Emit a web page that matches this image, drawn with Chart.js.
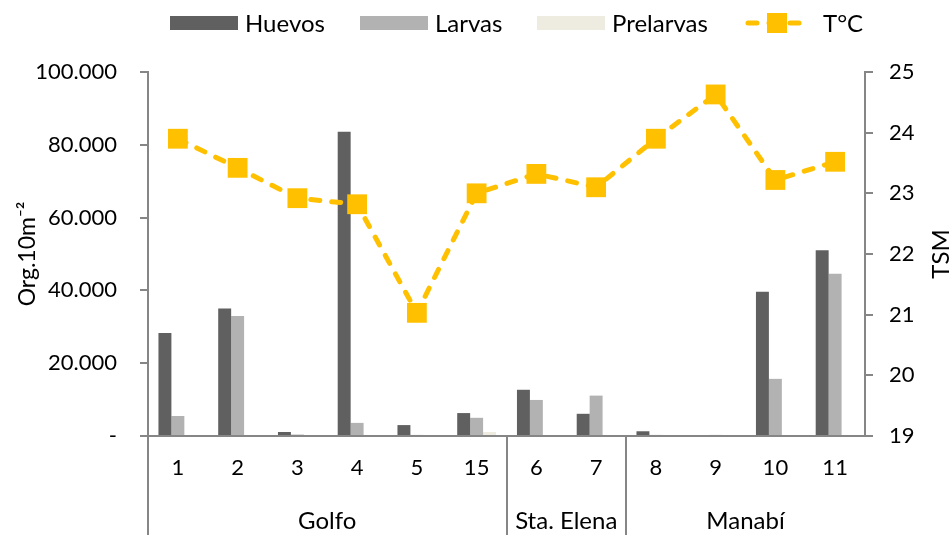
<!DOCTYPE html>
<html lang="es">
<head>
    <meta charset="utf-8">
    <script src="https://cdn.jsdelivr.net/npm/chart.js@4.4.1/dist/chart.umd.min.js"></script>
    <title>Huevos, larvas y TSM</title>
    <style>
        html, body { margin: 0; padding: 0; background: #fff; }
        .chart-container { position: relative; width: 951px; height: 535px; }
    </style>
</head>
<body>
    <div class="chart-container">
        <canvas id="myChart"></canvas>
    </div>

    <script>
        // estaciones y zonas
        var estaciones = ["1", "2", "3", "4", "5", "15", "6", "7", "8", "9", "10", "11"];
        var zonas = ["Golfo", "Sta. Elena", "Manabí"];
        var estacionesPorZona = [6, 2, 4];

        // Org.10m-2
        var huevos = [28300, 35000, 1100, 83600, 3000, 6300, 12700, 6100, 1300, 0, 39600, 51000];
        var larvas = [5500, 33000, 400, 3600, 300, 5000, 9900, 11100, 300, 300, 15700, 44600];
        var prelarvas = [0, 0, 0, 0, 0, 1100, 0, 300, 0, 0, 0, 0];

        // TSM (°C)
        var temperatura = [23.9, 23.42, 22.92, 22.82, 21.03, 23.0, 23.32, 23.1, 23.9, 24.63, 23.22, 23.52];

        var FONT = "Lato, 'Open Sans', sans-serif";
        var GRIS = "#868686";
        var AMARILLO = "#ffc000";

        var miles = function (v) {
            if (v === 0) return "-";
            return String(v).replace(/\B(?=(\d{3})+(?!\d))/g, ".");
        };

        // zonas debajo del eje x + separadores + titulo TSM + leyenda
        var extras = {
            id: "extras",
            afterDraw: function (chart) {
                var ctx = chart.ctx;
                var x = chart.scales.x;
                var area = chart.chartArea;
                var bottom = chart.height;
                ctx.save();

                // separadores de zona
                ctx.strokeStyle = GRIS;
                ctx.lineWidth = 2;
                var inicio = 0;
                var bordes = [area.left];
                for (var z = 0; z < zonas.length; z++) {
                    var fin = inicio + estacionesPorZona[z];
                    var izq = inicio === 0 ? area.left : (x.getPixelForValue(inicio - 1) + x.getPixelForValue(inicio)) / 2;
                    var der = fin >= estaciones.length ? area.right : (x.getPixelForValue(fin - 1) + x.getPixelForValue(fin)) / 2;
                    if (fin < estaciones.length) bordes.push(der);
                    ctx.fillStyle = "#000";
                    ctx.font = "24px " + FONT;
                    ctx.textAlign = "center";
                    ctx.textBaseline = "middle";
                    ctx.fillText(zonas[z], (izq + der) / 2, 521);
                    inicio = fin;
                }
                bordes.forEach(function (b) {
                    ctx.beginPath();
                    ctx.moveTo(Math.round(b), area.bottom);
                    ctx.lineTo(Math.round(b), bottom);
                    ctx.stroke();
                });

                // titulo eje derecho
                ctx.save();
                ctx.translate(941, (area.top + area.bottom) / 2);
                ctx.rotate(-Math.PI / 2);
                ctx.fillStyle = "#000";
                ctx.font = "24px " + FONT;
                ctx.textAlign = "center";
                ctx.textBaseline = "middle";
                ctx.fillText("TSM", 0, 0);
                ctx.restore();

                // leyenda
                var items = [
                    { t: "Huevos", c: "#606060", x: 170 },
                    { t: "Larvas", c: "#b2b2b2", x: 360 },
                    { t: "Prelarvas", c: "#eeece1", x: 537 },
                    { t: "T°C", linea: true, x: 745 }
                ];
                var ly = 23;
                ctx.font = "24px " + FONT;
                ctx.textAlign = "left";
                ctx.textBaseline = "middle";
                items.forEach(function (it) {
                    var lx = it.x;
                    if (it.linea) {
                        ctx.strokeStyle = AMARILLO;
                        ctx.lineWidth = 5;
                        ctx.lineCap = "round";
                        ctx.setLineDash([9, 12]);
                        ctx.beginPath();
                        ctx.moveTo(lx + 3, ly);
                        ctx.lineTo(lx + 61, ly);
                        ctx.stroke();
                        ctx.setLineDash([]);
                        ctx.fillStyle = AMARILLO;
                        ctx.fillRect(lx + 22, ly - 10, 20, 20);
                        lx += 78;
                    } else {
                        ctx.fillStyle = it.c;
                        ctx.fillRect(lx, ly - 7, 68, 14);
                        lx += 75;
                    }
                    ctx.fillStyle = "#000";
                    ctx.fillText(it.t, lx, ly + 1);
                });
                ctx.restore();
            }
        };

        var ctx = document.getElementById("myChart").getContext("2d");
        var myChart = new Chart(ctx, {
            type: "bar",
            data: {
                labels: estaciones,
                datasets: [{
                    type: "line",
                    label: "T°C",
                    data: temperatura,
                    yAxisID: "y2",
                    borderColor: AMARILLO,
                    backgroundColor: AMARILLO,
                    borderWidth: 5,
                    borderDash: [9, 12],
                    borderCapStyle: "round",
                    pointStyle: "rect",
                    pointRadius: 14,
                    pointBorderWidth: 0,
                    pointBackgroundColor: AMARILLO,
                    tension: 0,
                    order: 0
                }, {
                    label: "Huevos",
                    data: huevos,
                    backgroundColor: "#606060",
                    yAxisID: "y",
                    order: 1
                }, {
                    label: "Larvas",
                    data: larvas,
                    backgroundColor: "#b2b2b2",
                    yAxisID: "y",
                    order: 1
                }, {
                    label: "Prelarvas",
                    data: prelarvas,
                    backgroundColor: "#eeece1",
                    yAxisID: "y",
                    order: 1
                }]
            },
            options: {
                responsive: true,
                maintainAspectRatio: false,
                animation: false,
                events: [],
                datasets: {
                    bar: { categoryPercentage: 0.65, barPercentage: 1.0 }
                },
                layout: { padding: { top: 72, left: 0, right: 0, bottom: 0 } },
                plugins: {
                    legend: { display: false },
                    tooltip: { enabled: false }
                },
                scales: {
                    x: {
                        offset: true,
                        grid: { display: true, drawOnChartArea: false, drawTicks: false },
                        border: { display: true, color: GRIS, width: 2 },
                        ticks: { color: "#000", font: { family: FONT, size: 22 }, padding: 19, maxRotation: 0, autoSkip: false },
                        afterFit: function (s) { s.height = 99; }
                    },
                    y: {
                        position: "left",
                        min: 0,
                        max: 100000,
                        grid: { drawOnChartArea: false, drawTicks: true, tickLength: 8, color: GRIS, lineWidth: 2 },
                        border: { display: true, color: GRIS, width: 2 },
                        ticks: {
                            stepSize: 20000,
                            color: "#000",
                            font: { family: FONT, size: 22 },
                            padding: 23,
                            callback: function (v) { return miles(v); }
                        },
                        title: {
                            display: true,
                            text: "Org.10m⁻²",
                            color: "#000",
                            font: { family: FONT, size: 23 },
                            padding: { top: 14, bottom: 0 }
                        },
                        afterFit: function (s) { s.width = 148; }
                    },
                    y2: {
                        position: "right",
                        min: 19,
                        max: 25,
                        grid: { drawOnChartArea: false, drawTicks: true, tickLength: 8, color: GRIS, lineWidth: 2 },
                        border: { display: true, color: GRIS, width: 2 },
                        ticks: {
                            stepSize: 1,
                            color: "#000",
                            font: { family: FONT, size: 22 },
                            padding: 16
                        },
                        afterFit: function (s) { s.width = 86; }
                    }
                }
            },
            plugins: [extras]
        });
    </script>
</body>
</html>
